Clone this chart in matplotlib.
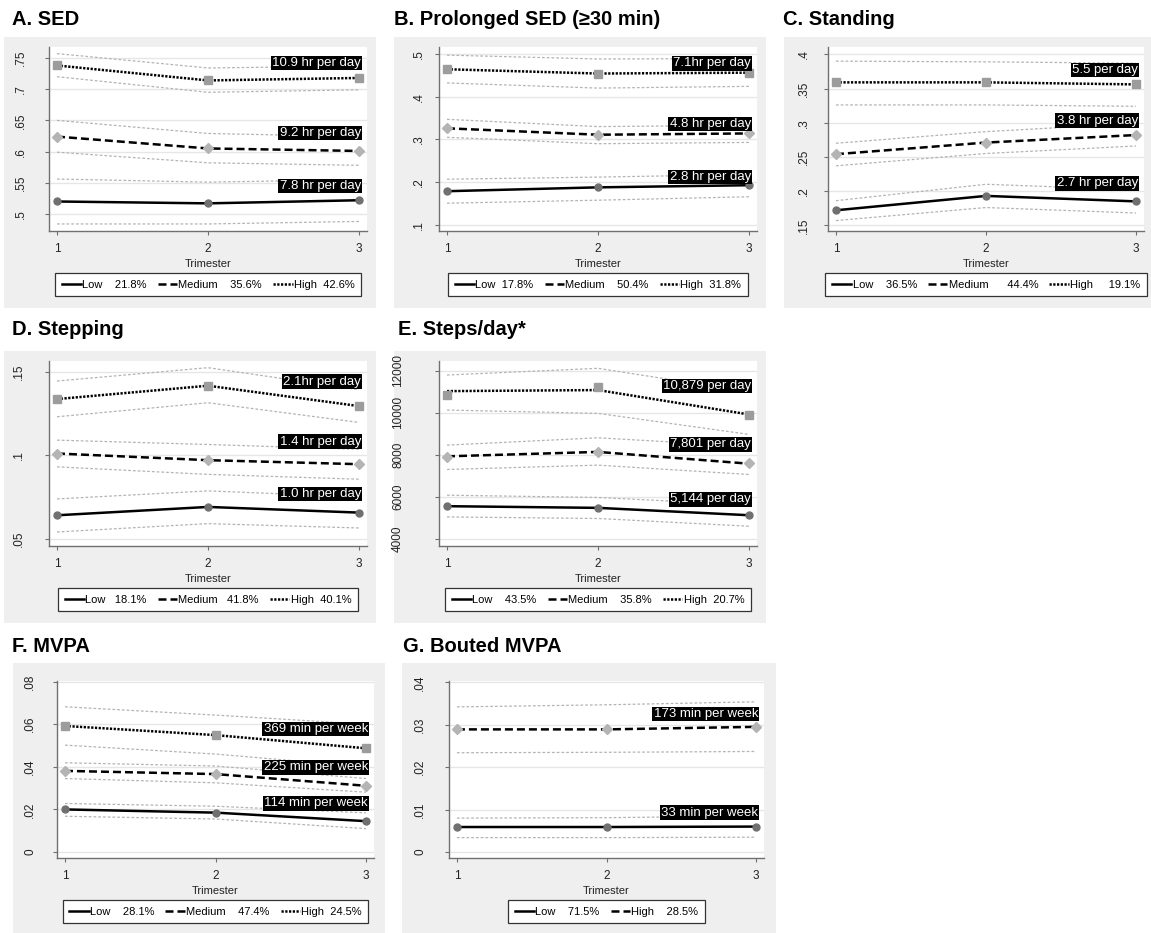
import matplotlib

matplotlib.use("Agg")
import matplotlib.pyplot as plt
import matplotlib.transforms as mtransforms
from matplotlib.lines import Line2D
from matplotlib.patches import Rectangle

plt.rcParams["font.family"] = ["Liberation Sans", "DejaVu Sans"]

W, H = 1151, 933
TRIMESTER = [1, 2, 3]

# A. SED
SED_FIT = [[0.520, 0.517, 0.522], [0.624, 0.605, 0.601], [0.738, 0.714, 0.718]]
SED_LO = [[0.484, 0.484, 0.488], [0.599, 0.582, 0.578], [0.720, 0.695, 0.699]]
SED_HI = [[0.556, 0.551, 0.555], [0.650, 0.629, 0.624], [0.757, 0.734, 0.737]]
SED_TEXT = ["7.8 hr per day", "9.2 hr per day", "10.9 hr per day"]
SED_TEXT_Y = [0.545, 0.630, 0.742]
SED_LEGEND = ["Low    21.8%", "Medium    35.6%", "High  42.6%"]
SED_TICKS = [0.5, 0.55, 0.6, 0.65, 0.7, 0.75]
SED_TICKLABELS = [".5", ".55", ".6", ".65", ".7", ".75"]

# B. Prolonged SED
PSED_FIT = [[0.179, 0.188, 0.193], [0.326, 0.311, 0.314], [0.464, 0.454, 0.456]]
PSED_LO = [[0.151, 0.158, 0.166], [0.305, 0.290, 0.293], [0.432, 0.420, 0.424]]
PSED_HI = [[0.207, 0.212, 0.218], [0.347, 0.330, 0.333], [0.497, 0.488, 0.489]]
PSED_TEXT = ["2.8 hr per day", "4.8 hr per day", "7.1hr per day"]
PSED_TEXT_Y = [0.212, 0.336, 0.478]
PSED_LEGEND = ["Low  17.8%", "Medium    50.4%", "High  31.8%"]
PSED_TICKS = [0.1, 0.2, 0.3, 0.4, 0.5]
PSED_TICKLABELS = [".1", ".2", ".3", ".4", ".5"]

# C. Standing
STAND_FIT = [[0.172, 0.193, 0.185], [0.254, 0.271, 0.282], [0.359, 0.359, 0.356]]
STAND_LO = [[0.157, 0.176, 0.168], [0.237, 0.255, 0.266], [0.326, 0.326, 0.324]]
STAND_HI = [[0.186, 0.210, 0.202], [0.270, 0.287, 0.299], [0.390, 0.389, 0.387]]
STAND_TEXT = ["2.7 hr per day", "3.8 hr per day", "5.5 per day"]
STAND_TEXT_Y = [0.2115, 0.303, 0.377]
STAND_LEGEND = ["Low    36.5%", "Medium      44.4%", "High     19.1%"]
STAND_TICKS = [0.15, 0.2, 0.25, 0.3, 0.35, 0.4]
STAND_TICKLABELS = [".15", ".2", ".25", ".3", ".35", ".4"]

# D. Stepping
STEP_FIT = [[0.064, 0.069, 0.0656], [0.101, 0.097, 0.0946], [0.1336, 0.1416, 0.1294]]
STEP_LO = [[0.054, 0.059, 0.0564], [0.093, 0.0885, 0.0856], [0.123, 0.1314, 0.1196]]
STEP_HI = [[0.0738, 0.0786, 0.0750], [0.109, 0.1064, 0.1035], [0.1444, 0.1524, 0.1392]]
STEP_TEXT = ["1.0 hr per day", "1.4 hr per day", "2.1hr per day"]
STEP_TEXT_Y = [0.0767, 0.108, 0.144]
STEP_LEGEND = ["Low   18.1%", "Medium   41.8%", "High  40.1%"]
STEP_TICKS = [0.05, 0.1, 0.15]
STEP_TICKLABELS = [".05", ".1", ".15"]

# E. Steps/day (markers are observed means, lines are fitted)
STEPS_FIT = [[5560, 5480, 5130], [7930, 8140, 7580], [11030, 11080, 9920]]
STEPS_MARK = [[5574, 5479, 5131], [7906, 8115, 7592], [10843, 11210, 9891]]
STEPS_LO = [[5050, 4975, 4607], [7305, 7511, 7067], [10130, 9972, 8973]]
STEPS_HI = [[6083, 5974, 5620], [8463, 8811, 8400], [11795, 12114, 11000]]
STEPS_TEXT = ["5,144 per day", "7,801 per day", "10,879 per day"]
STEPS_TEXT_Y = [5888, 8497, 11270]
STEPS_LEGEND = ["Low    43.5%", "Medium    35.8%", "High  20.7%"]
STEPS_TICKS = [4000, 6000, 8000, 10000, 12000]
STEPS_TICKLABELS = ["4000", "6000", "8000", "10000", "12000"]

# F. MVPA
MVPA_FIT = [[0.0200, 0.0185, 0.0145], [0.0381, 0.0366, 0.0311], [0.0592, 0.0549, 0.0487]]
MVPA_LO = [[0.0168, 0.0155, 0.0110], [0.0345, 0.0325, 0.0281], [0.0502, 0.0460, 0.0400]]
MVPA_HI = [[0.0228, 0.0215, 0.0184], [0.0419, 0.0404, 0.0345], [0.0682, 0.0643, 0.0600]]
MVPA_TEXT = ["114 min per week", "225 min per week", "369 min per week"]
MVPA_TEXT_Y = [0.0228, 0.0397, 0.0577]
MVPA_LEGEND = ["Low    28.1%", "Medium    47.4%", "High  24.5%"]
MVPA_TICKS = [0, 0.02, 0.04, 0.06, 0.08]
MVPA_TICKLABELS = ["0", ".02", ".04", ".06", ".08"]

# G. Bouted MVPA
BMVPA_FIT = [[0.0059, 0.0059, 0.0060], [0.0289, 0.0289, 0.0295]]
BMVPA_LO = [[0.0034, 0.0034, 0.0035], [0.0234, 0.0235, 0.0237]]
BMVPA_HI = [[0.0080, 0.0081, 0.0085], [0.0342, 0.0347, 0.0354]]
BMVPA_TEXT = ["33 min per week", "173 min per week"]
BMVPA_TEXT_Y = [0.0093, 0.0325]
BMVPA_LEGEND = ["Low    71.5%", "High    28.5%"]
BMVPA_TICKS = [0, 0.01, 0.02, 0.03, 0.04]
BMVPA_TICKLABELS = ["0", ".01", ".02", ".03", ".04"]

STYLES = {
    "low": dict(ls="-", marker="o", mc="#707070", ms=5),
    "med": dict(ls=(0, (3.2, 1.6)), marker="D", mc="#b4b4b4", ms=4.8),
    "high": dict(ls=(0, (0.9, 0.6)), marker="s", mc="#9c9c9c", ms=5.3),
}

BG = "#efefef"

# title baseline xy, background box, axes box (pixels), y tick pad (px), ylim
PANELS = [
    dict(title="A. SED", t=(12, 25), bg=(4, 37, 376, 308), ax=(49, 47, 367, 231), pad=18,
         ylim=(0.4727, 0.7676), fit=SED_FIT, mark=SED_FIT, lo=SED_LO, hi=SED_HI,
         text=SED_TEXT, text_y=SED_TEXT_Y, legend=SED_LEGEND, ticks=SED_TICKS,
         ticklabels=SED_TICKLABELS, styles=["low", "med", "high"]),
    dict(title="B. Prolonged SED (\u226530 min)", t=(394, 25), bg=(394, 37, 766, 308),
         ax=(439, 47, 757, 231), pad=10, ylim=(0.086, 0.516), fit=PSED_FIT, mark=PSED_FIT,
         lo=PSED_LO, hi=PSED_HI, text=PSED_TEXT, text_y=PSED_TEXT_Y, legend=PSED_LEGEND,
         ticks=PSED_TICKS, ticklabels=PSED_TICKLABELS, styles=["low", "med", "high"]),
    dict(title="C. Standing", t=(783, 25), bg=(784, 37, 1151, 308), ax=(828, 47, 1144, 231),
         pad=14, ylim=(0.1417, 0.4107), fit=STAND_FIT, mark=STAND_FIT, lo=STAND_LO,
         hi=STAND_HI, text=STAND_TEXT, text_y=STAND_TEXT_Y, legend=STAND_LEGEND,
         ticks=STAND_TICKS, ticklabels=STAND_TICKLABELS, styles=["low", "med", "high"]),
    dict(title="D. Stepping", t=(12, 335), bg=(4, 351, 376, 623), ax=(49, 361, 367, 546),
         pad=20, ylim=(0.0456, 0.1564), fit=STEP_FIT, mark=STEP_FIT, lo=STEP_LO, hi=STEP_HI,
         text=STEP_TEXT, text_y=STEP_TEXT_Y, legend=STEP_LEGEND, ticks=STEP_TICKS,
         ticklabels=STEP_TICKLABELS, styles=["low", "med", "high"]),
    dict(title="E. Steps/day*", t=(398, 335), bg=(394, 351, 766, 623), ax=(439, 361, 757, 546),
         pad=31, ylim=(3667, 12462), fit=STEPS_FIT, mark=STEPS_MARK, lo=STEPS_LO, hi=STEPS_HI,
         text=STEPS_TEXT, text_y=STEPS_TEXT_Y, legend=STEPS_LEGEND, ticks=STEPS_TICKS,
         ticklabels=STEPS_TICKLABELS, styles=["low", "med", "high"]),
    dict(title="F. MVPA", t=(12, 652), bg=(13, 663, 385, 933), ax=(57, 681, 374, 858),
         pad=17, ylim=(-0.0028, 0.0803), fit=MVPA_FIT, mark=MVPA_FIT, lo=MVPA_LO, hi=MVPA_HI,
         text=MVPA_TEXT, text_y=MVPA_TEXT_Y, legend=MVPA_LEGEND, ticks=MVPA_TICKS,
         ticklabels=MVPA_TICKLABELS, styles=["low", "med", "high"]),
    dict(title="G. Bouted MVPA", t=(403, 652), bg=(402, 663, 776, 933), ax=(449, 681, 764, 858),
         pad=19, ylim=(-0.0014, 0.0403), fit=BMVPA_FIT, mark=BMVPA_FIT, lo=BMVPA_LO,
         hi=BMVPA_HI, text=BMVPA_TEXT, text_y=BMVPA_TEXT_Y, legend=BMVPA_LEGEND,
         ticks=BMVPA_TICKS, ticklabels=BMVPA_TICKLABELS, styles=["low", "med"]),
]

fig = plt.figure(figsize=(W / 100, H / 100), dpi=100)
px = 72 / 100  # points per pixel

for p in PANELS:
    bx0, by0, bx1, by1 = p["bg"]
    fig.add_artist(Rectangle((bx0 / W, 1 - by1 / H), (bx1 - bx0) / W, (by1 - by0) / H,
                             transform=fig.transFigure, facecolor=BG, edgecolor="none",
                             zorder=-5))
    fig.text(p["t"][0] / W, 1 - p["t"][1] / H, p["title"], fontsize=14.5, fontweight="bold",
             ha="left", va="baseline")

    x0, y0, x1, y1 = p["ax"]
    axw, axh = x1 - x0, y1 - y0
    ax = fig.add_axes([x0 / W, 1 - y1 / H, axw / W, axh / H])
    ax.set_facecolor("white")

    for k, style in enumerate(p["styles"]):
        st = STYLES[style]
        ax.plot(TRIMESTER, p["lo"][k], color="#b4b4b4", lw=0.9, ls=(0, (2.2, 1.6)), zorder=2)
        ax.plot(TRIMESTER, p["hi"][k], color="#b4b4b4", lw=0.9, ls=(0, (2.2, 1.6)), zorder=2)
        ax.plot(TRIMESTER, p["fit"][k], color="black", lw=1.8, ls=st["ls"], zorder=3)
        ax.plot(TRIMESTER, p["mark"][k], ls="none", marker=st["marker"], ms=st["ms"],
                color=st["mc"], mec=st["mc"], zorder=4)

    trans = mtransforms.blended_transform_factory(ax.transAxes, ax.transData)
    for label, yv in zip(p["text"], p["text_y"]):
        ax.text(1 - 6 / axw, yv, label, transform=trans, ha="right", va="center",
                fontsize=9.5, color="white", zorder=6,
                bbox=dict(boxstyle="square,pad=0.1", facecolor="black", edgecolor="none"))

    ax.set_xlim(1 - 8 / 151, 3 + 8 / 151)
    ax.set_ylim(*p["ylim"])
    ax.set_xticks(TRIMESTER)
    ax.set_xticklabels(["1", "2", "3"])
    ax.set_yticks(p["ticks"])
    ax.set_yticklabels(p["ticklabels"], rotation=90, va="center")
    ax.yaxis.grid(True, color="#e6e6e6", lw=1)
    ax.set_axisbelow(True)
    for side in ("top", "right"):
        ax.spines[side].set_visible(False)
    for side in ("left", "bottom"):
        ax.spines[side].set_color("#707070")
        ax.spines[side].set_linewidth(1)
    ax.tick_params(axis="both", direction="out", length=4 * px, width=0.8, color="#707070",
                   labelsize=8.5, labelcolor="#222222")
    ax.tick_params(axis="y", pad=p["pad"] * px)
    ax.tick_params(axis="x", pad=5.5)
    ax.set_xlabel("Trimester", fontsize=8, labelpad=3, color="#222222")

    handles = [Line2D([], [], color="black", lw=1.8, ls=STYLES[s]["ls"]) for s in p["styles"]]
    leg = ax.legend(handles, p["legend"], loc="upper center",
                    bbox_to_anchor=(0.5, -42 / axh), ncol=len(handles), frameon=True,
                    fancybox=False, fontsize=8, handlelength=1.75, handletextpad=0.1,
                    columnspacing=1.0, borderpad=0.6, borderaxespad=0, framealpha=1)
    leg.get_frame().set_edgecolor("#333333")
    leg.get_frame().set_linewidth(0.9)

fig.savefig("out.png", dpi=100, facecolor="white")
